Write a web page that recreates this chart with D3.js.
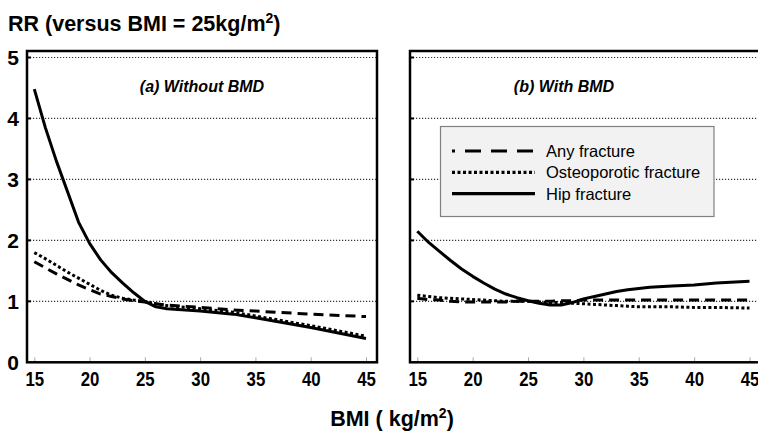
<!DOCTYPE html>
<html lang="en">
<head>
<meta charset="UTF-8">
<title>RR versus BMI</title>
<style>
  body { margin: 0; background: #fff; }
  svg { font-family: Arial, "Liberation Sans", sans-serif; }
</style>
</head>
<body>
<svg width="758" height="432"></svg>
<script src="https://d3js.org/d3.v7.min.js"></script>
<script>
// BMI points, panel (a)
var bmiA = [15,16,17,18,19,20,21,22,23,24,25,26,27,30,33,35,40,45];
var anyA   = [1.65,1.55,1.45,1.36,1.27,1.19,1.12,1.08,1.04,1.01,0.99,0.96,0.94,0.90,0.86,0.84,0.79,0.75];
var osteoA = [1.80,1.70,1.59,1.48,1.38,1.28,1.18,1.10,1.05,1.02,1.00,0.96,0.93,0.88,0.82,0.76,0.60,0.43];
var hipA   = [4.48,3.85,3.30,2.80,2.30,1.95,1.68,1.47,1.30,1.14,1.00,0.91,0.88,0.84,0.79,0.73,0.57,0.39];

// BMI points, panel (b)
var bmiB = [15,16,17,18,19,20,21,22,23,24,25,26,27,28,29,30,31,32,33,34,35,36,38,40,42,45];
var anyB   = [1.05,1.03,1.02,1.00,0.99,0.99,0.99,0.99,0.99,1.00,1.00,1.00,1.00,1.01,1.01,1.02,1.02,1.02,1.02,1.02,1.02,1.02,1.02,1.02,1.02,1.02];
var osteoB = [1.10,1.08,1.06,1.05,1.04,1.03,1.02,1.01,1.00,1.00,1.00,0.99,0.98,0.98,0.97,0.96,0.95,0.94,0.93,0.92,0.91,0.91,0.91,0.90,0.90,0.89];
var hipB   = [2.15,1.97,1.82,1.67,1.53,1.41,1.30,1.20,1.12,1.06,1.01,0.97,0.94,0.94,0.98,1.04,1.08,1.12,1.16,1.19,1.21,1.23,1.25,1.27,1.30,1.33];

var xTicks = [15,20,25,30,35,40,45];
var yTicks = [0,1,2,3,4,5];
var seriesNames = ["Any fracture", "Osteoporotic fracture", "Hip fracture"];

var dashes = {
  "Any fracture": "10,6",
  "Osteoporotic fracture": "3,2.5",
  "Hip fracture": null
};

var svg = d3.select("svg");

var y = d3.scaleLinear().domain([0, 5]).range([362.3, 57.5]);

var panels = [
  { title: "(a) Without BMD", left: 27, right: 377, x0: 34.3, x1: 366, tx: 202,
    bmi: bmiA, data: [anyA, osteoA, hipA], labels: true },
  { title: "(b) With BMD", left: 410, right: 763, x0: 417.3, x1: 749.5, tx: 564,
    bmi: bmiB, data: [anyB, osteoB, hipB], labels: false }
];

var frameTop = 51;

panels.forEach(function(p) {
  var x = d3.scaleLinear().domain([15, 45]).range([p.x0, p.x1]);
  var g = svg.append("g");

  // dotted grid
  g.selectAll(".grid")
    .data(yTicks.filter(function(d) { return d > 0; }))
    .enter().append("line")
    .attr("x1", p.left).attr("x2", p.right)
    .attr("y1", function(d) { return y(d); })
    .attr("y2", function(d) { return y(d); })
    .attr("stroke", "#333")
    .attr("stroke-width", 1.2)
    .attr("stroke-dasharray", "1.2,1.8");

  // small inward y ticks
  g.selectAll(".ytick")
    .data(yTicks.filter(function(d) { return d > 0; }))
    .enter().append("line")
    .attr("x1", p.left).attr("x2", p.left + 4)
    .attr("y1", function(d) { return y(d); })
    .attr("y2", function(d) { return y(d); })
    .attr("stroke", "#000").attr("stroke-width", 2);

  // x axis (ticks upward)
  var xAxis = d3.axisBottom(x).tickValues(xTicks).tickSize(-5).tickPadding(10);
  var ax = g.append("g")
    .attr("transform", "translate(0," + y(0) + ")")
    .call(xAxis);
  ax.select(".domain").remove();
  ax.selectAll(".tick line").attr("stroke", "#aaa").attr("stroke-width", 1);
  ax.selectAll(".tick text")
    .attr("font-size", 20)
    .attr("font-weight", "bold")
    .attr("font-family", "Arial, 'Liberation Sans', sans-serif")
    .attr("fill", "#000")
    .attr("transform", "scale(0.84,1)");

  // series lines
  var line = d3.line()
    .x(function(d) { return x(d[0]); })
    .y(function(d) { return y(d[1]); });

  p.data.forEach(function(vals, i) {
    var pts = p.bmi.map(function(b, j) { return [b, vals[j]]; });
    g.append("path")
      .datum(pts)
      .attr("d", line)
      .attr("fill", "none")
      .attr("stroke", "#000")
      .attr("stroke-width", 3)
      .attr("stroke-dasharray", dashes[seriesNames[i]])
      .attr("stroke-linejoin", "round");
  });

  // frame
  g.append("rect")
    .attr("x", p.left).attr("y", frameTop)
    .attr("width", p.right - p.left).attr("height", y(0) - frameTop)
    .attr("fill", "none")
    .attr("stroke", "#000")
    .attr("stroke-width", 2.5);

  // panel title
  g.append("text")
    .attr("x", p.tx).attr("y", 92)
    .attr("text-anchor", "middle")
    .attr("font-size", 16)
    .attr("font-weight", "bold")
    .attr("font-style", "italic")
    .text(p.title);

  // y labels on left panel only
  if (p.labels) {
    g.selectAll(".ylab")
      .data(yTicks)
      .enter().append("text")
      .attr("x", 19)
      .attr("y", function(d) { return y(d); })
      .attr("dy", "0.36em")
      .attr("text-anchor", "end")
      .attr("font-size", 21)
      .attr("font-weight", "bold")
      .text(function(d) { return d; });
  }
});

// legend
var lg = svg.append("g");
lg.append("rect")
  .attr("x", 440.5).attr("y", 126.5)
  .attr("width", 273.5).attr("height", 90)
  .attr("fill", "#f2f2f2")
  .attr("stroke", "#808080")
  .attr("stroke-width", 1.2);

var legendDash = { "Any fracture": ["16,10", 13], "Osteoporotic fracture": ["3,2.5", 0], "Hip fracture": [null, 0] };

seriesNames.forEach(function(name, i) {
  var ly = 151 + i * 21.3;
  lg.append("line")
    .attr("x1", 452).attr("x2", 535)
    .attr("y1", ly).attr("y2", ly)
    .attr("stroke", "#000")
    .attr("stroke-width", 3.2)
    .attr("stroke-dasharray", legendDash[name][0])
    .attr("stroke-dashoffset", legendDash[name][1]);
  lg.append("text")
    .attr("x", 546).attr("y", ly)
    .attr("dy", "0.36em")
    .attr("font-size", 16.5)
    .text(name);
});

// axis titles
var t1 = svg.append("text")
  .attr("x", 8).attr("y", 31)
  .attr("font-size", 21.5)
  .attr("font-weight", "bold");
t1.append("tspan").text("RR (versus BMI = 25kg/m");
t1.append("tspan").attr("font-size", 14).attr("dy", -8).text("2");
t1.append("tspan").attr("dy", 8).text(")");

var t2 = svg.append("text")
  .attr("x", 392).attr("y", 426)
  .attr("text-anchor", "middle")
  .attr("font-size", 21.5)
  .attr("font-weight", "bold");
t2.append("tspan").text("BMI ( kg/m");
t2.append("tspan").attr("font-size", 14).attr("dy", -8).text("2");
t2.append("tspan").attr("dy", 8).text(")");
</script>
</body>
</html>
